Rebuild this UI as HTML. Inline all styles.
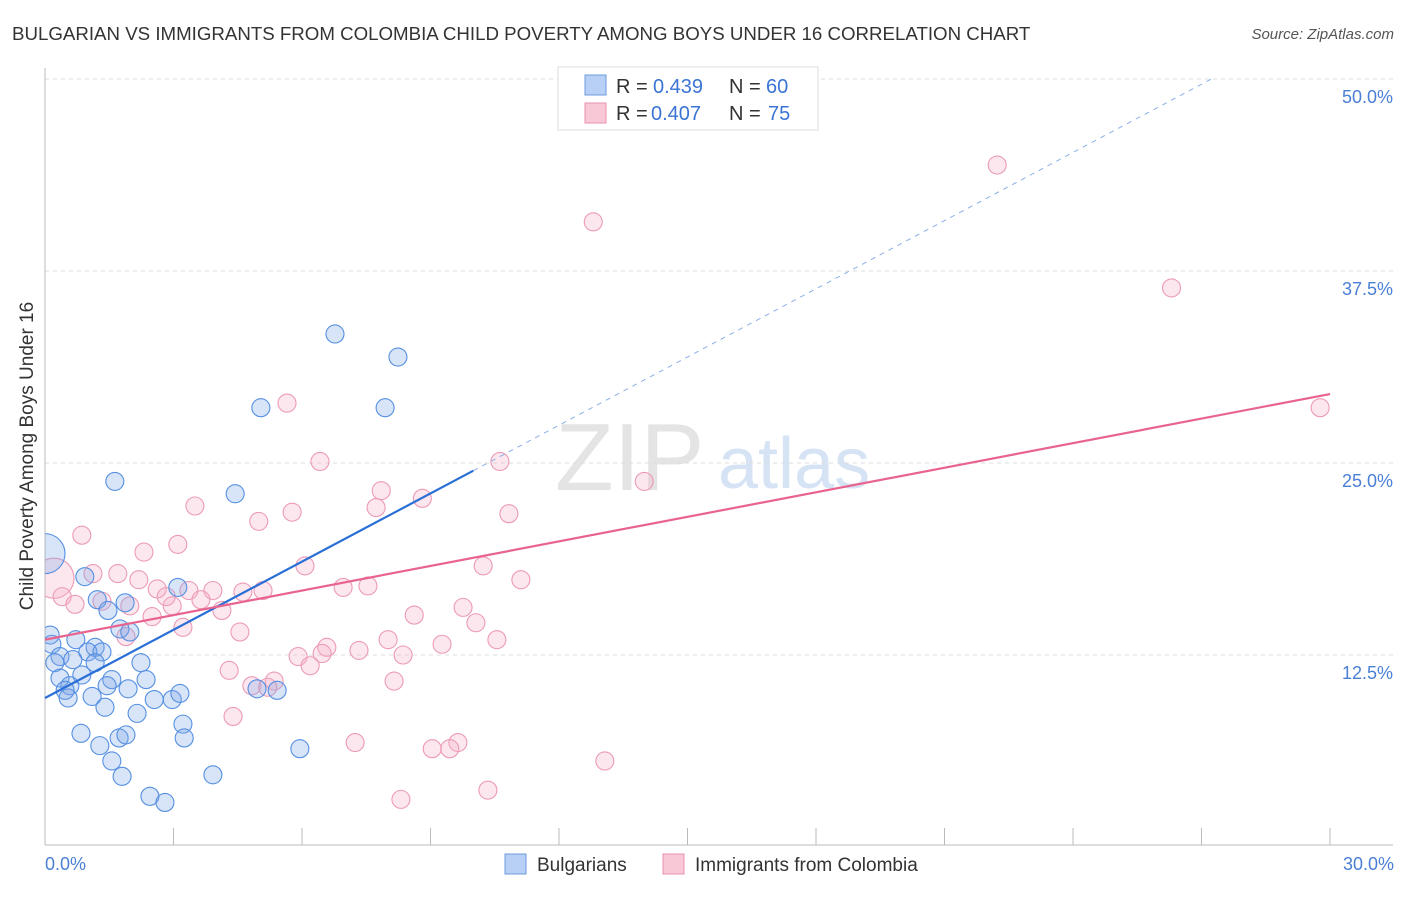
<!DOCTYPE html>
<html><head><meta charset="utf-8"><style>
body{margin:0;background:#fff;font-family:"Liberation Sans",sans-serif}
svg text{font-family:"Liberation Sans",sans-serif}
</style></head><body>
<svg id="chart" width="1406" height="892" viewBox="0 0 1406 892">
<defs><clipPath id="plotclip"><rect x="45" y="60" width="1360" height="785"/></clipPath></defs>
<text x="12" y="40" font-size="18.7" fill="#333">BULGARIAN VS IMMIGRANTS FROM COLOMBIA CHILD POVERTY AMONG BOYS UNDER 16 CORRELATION CHART</text>
<text x="1394" y="39" font-size="15" fill="#555" font-style="italic" text-anchor="end">Source: ZipAtlas.com</text>
<g>
<text x="555" y="490" font-size="96" fill="#e4e4e4" font-family="Liberation Serif, serif">ZIP</text>
<text x="718" y="488" font-size="72" fill="#d6e3f5">atlas</text>
</g>
<g id="grid"></g><g id="axes"></g><g id="pts" clip-path="url(#plotclip)"></g><g id="lines"></g>
<g>
<rect x="558" y="67" width="260" height="63" fill="#fff" stroke="#ddd"/>
<rect x="585" y="75" width="21" height="20" fill="#b8d0f5" stroke="#6d9be0"/>
<text x="616" y="93" font-size="20" fill="#333">R =</text>
<text x="653" y="93" font-size="20" fill="#3a74d4">0.439</text>
<text x="729" y="93" font-size="20" fill="#333">N =</text>
<text x="766" y="93" font-size="20" fill="#3a74d4">60</text>
<rect x="585" y="103" width="21" height="20" fill="#f8c8d6" stroke="#e890ad"/>
<text x="616" y="120" font-size="20" fill="#333">R =</text>
<text x="651" y="120" font-size="20" fill="#3a74d4">0.407</text>
<text x="729" y="120" font-size="20" fill="#333">N =</text>
<text x="768" y="120" font-size="20" fill="#3a74d4">75</text>
</g>
<text x="33" y="456" font-size="19" fill="#333" text-anchor="middle" transform="rotate(-90 33 456)">Child Poverty Among Boys Under 16</text>
<text x="45" y="870" font-size="18" fill="#4a7fd6">0.0%</text>
<text x="1394" y="870" font-size="18" fill="#4a7fd6" text-anchor="end">30.0%</text>
<g>
<rect x="505" y="854" width="21" height="20" fill="#b8d0f5" stroke="#6d9be0"/>
<text x="537" y="871" font-size="19" fill="#333">Bulgarians</text>
<rect x="663" y="854" width="21" height="20" fill="#f8c8d6" stroke="#e890ad"/>
<text x="695" y="871" font-size="19" fill="#333">Immigrants from Colombia</text>
</g>
</svg>
<script>
const yTicks=[12.5,25,37.5,50];
const yTickLabels=["12.5%","25.0%","37.5%","50.0%"];
const xTickVals=[0,3,6,9,12,15,18,21,24,27,30];
const blueX=[6.77,8.24,5.04,7.94,1.63,4.44,0,0.93,3.1,1.22,1.87,1.47,1.75,1.98,0.12,0.16,0.72,1.17,1.0,1.33,0.35,0.65,0.23,1.17,2.24,0.86,0.35,1.56,2.36,0.58,0.47,1.45,1.94,4.95,5.42,1.1,0.54,2.55,2.97,3.15,1.4,2.15,3.22,0.84,1.73,1.89,3.25,1.28,5.95,1.56,1.8,3.92,2.45,2.8];
const blueY=[33.4,31.9,28.6,28.6,23.8,23.0,19.1,17.6,16.9,16.1,15.9,15.4,14.2,14.0,13.8,13.2,13.5,13.0,12.7,12.7,12.4,12.2,12.0,12.0,12.0,11.2,11.0,10.9,10.9,10.5,10.2,10.5,10.3,10.3,10.2,9.8,9.7,9.6,9.6,10.0,9.1,8.7,8.0,7.4,7.1,7.3,7.1,6.6,6.4,5.6,4.6,4.7,3.3,2.9];
const pinkX=[22.23,12.8,26.3,29.77,5.65,6.42,10.62,13.99,7.85,8.81,3.5,5.77,7.73,10.83,4.99,0.86,3.1,2.31,6.07,10.23,0.21,1.12,1.7,2.19,11.11,6.96,7.54,2.62,3.36,3.92,5.09,4.62,0.4,0.7,1.33,1.98,2.97,3.64,2.83,4.13,9.76,8.62,2.5,3.22,10.06,4.55,1.89,8.01,10.55,9.27,6.58,7.33,5.91,8.36,6.47,6.19,4.3,8.15,5.35,4.83,5.2,4.39,7.24,9.64,9.04,9.45,13.07,10.34,8.31];
const pinkY=[44.4,40.7,36.4,28.6,28.9,25.1,25.1,23.8,23.2,22.7,22.2,21.8,22.1,21.7,21.2,20.3,19.7,19.2,18.3,18.3,17.5,17.8,17.8,17.4,17.4,16.9,17.0,16.8,16.7,16.7,16.7,16.6,16.3,15.8,16.0,15.7,15.7,16.1,16.3,15.4,15.6,15.1,15.0,14.3,14.6,14.0,13.7,13.5,13.5,13.2,13.0,12.8,12.4,12.5,12.6,11.8,11.5,10.8,10.8,10.5,10.4,8.5,6.8,6.8,6.4,6.4,5.6,3.7,3.1];
const blueFit=[9.7,1.48];
const pinkFit=[13.5,0.533];
const NS="http://www.w3.org/2000/svg";
const sx=v=>45+v/30*1285;
const sy=v=>847-v/12.5*192;
function mk(tag,attrs,parent){const e=document.createElementNS(NS,tag);for(const k in attrs)e.setAttribute(k,attrs[k]);parent.appendChild(e);return e;}
const grid=document.getElementById('grid'),axes=document.getElementById('axes'),pts=document.getElementById('pts'),lines=document.getElementById('lines');
yTicks.forEach((t,i)=>{
 const l=mk('line',{x1:45,x2:1393,y1:sy(t),y2:sy(t),stroke:'#ddd','stroke-dasharray':'4,4'},grid);
 
 
 const tx=mk('text',{x:1393,y:sy(t)+24,'font-size':18,fill:'#4a7fd6','text-anchor':'end'},grid);
 tx.textContent=yTickLabels[i];
 
 
});
let a=mk('line',{x1:45,x2:45,y1:68,y2:845,stroke:'#bbb'},axes);


a=mk('line',{x1:45,x2:1393,y1:845,y2:845,stroke:'#bbb'},axes);


xTickVals.forEach(v=>{
 const t=mk('line',{x1:sx(v),x2:sx(v),y1:828,y2:845,stroke:'#bbb'},axes);
 
 
});
function dots(xs,ys,fill,stroke,name){
 xs.forEach((x,i)=>{
  const big=(x===0||(x<0.3&&ys[i]>17));
  const c=mk('circle',{cx:sx(x),cy:sy(ys[i]),r:big?20:9,fill:fill,stroke:stroke,'stroke-width':1.1},pts);
  
  
 });
}
dots(pinkX,pinkY,'rgba(246,175,198,0.3)','#ec9ab6','colombia-point');
dots(blueX,blueY,'rgba(125,165,232,0.3)','#5590e2','bulgarian-point');
let L=mk('line',{x1:sx(0),y1:sy(blueFit[0]),x2:sx(10),y2:sy(blueFit[0]+blueFit[1]*10),stroke:'#2a6fd6','stroke-width':2.2},lines);


L=mk('line',{x1:sx(10),y1:sy(blueFit[0]+blueFit[1]*10),x2:sx(27.3),y2:sy(blueFit[0]+blueFit[1]*27.3),stroke:'#8ab0e8','stroke-width':1,'stroke-dasharray':'5,5'},lines);


L=mk('line',{x1:sx(0),y1:sy(pinkFit[0]),x2:sx(30),y2:sy(pinkFit[0]+pinkFit[1]*30),stroke:'#e8648f','stroke-width':2.2},lines);


</script>
</body></html>
